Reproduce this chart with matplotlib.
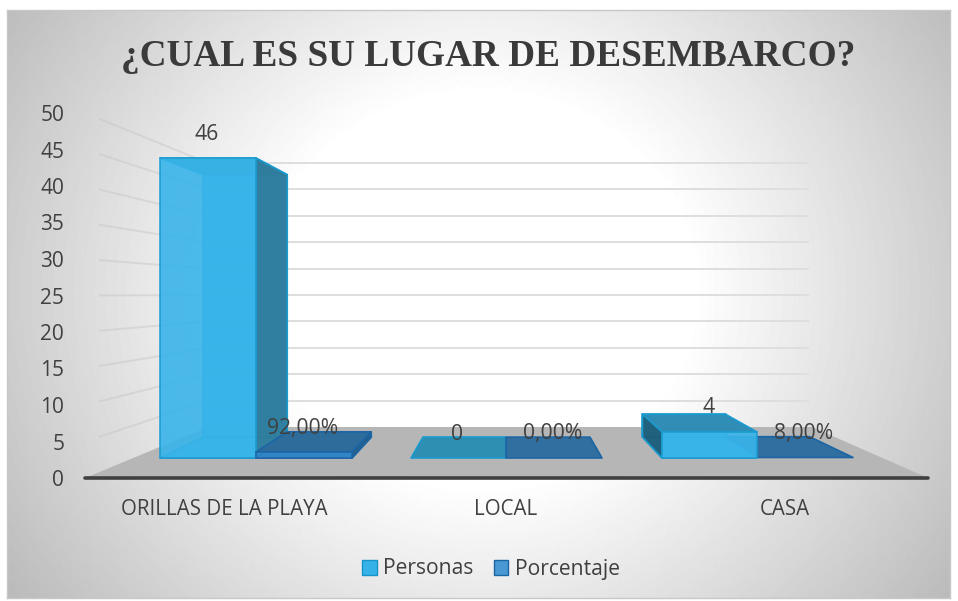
import numpy as np
import matplotlib
matplotlib.use("Agg")
import matplotlib.pyplot as plt
from matplotlib.patches import Polygon, Patch

categories = ["ORILLAS DE LA PLAYA", "LOCAL", "CASA"]
personas = [46, 0, 4]
porcentaje = [0.92, 0.0, 0.08]
personas_labels = ["46", "0", "4"]
porcentaje_labels = ["92,00%", "0,00%", "8,00%"]
yticks = list(range(0, 55, 5))

W, H = 958, 601
fig = plt.figure(figsize=(W / 100, H / 100), dpi=100, facecolor="white")
plt.rcParams["font.family"] = ["Open Sans", "DejaVu Sans"]
TXT = "#404040"


def axes_px(x0, y0, x1, y1, **kw):
    return fig.add_axes([x0 / W, 1 - y1 / H, (x1 - x0) / W, (y1 - y0) / H], **kw)


# background gradient panel
bg = axes_px(7, 10, 950, 598)
yy, xx = np.mgrid[10:598, 7:950]
r = np.sqrt(((xx - 480) / 560.0) ** 2 + ((yy - 290) / 520.0) ** 2)
shade = 1 - 0.30 * np.clip((r - 0.38) / 0.72, 0, 1) ** 1.0
bg.imshow(shade, cmap="gray", vmin=0, vmax=1, aspect="auto", extent=(7, 950, 598, 10))
bg.set_xticks([])
bg.set_yticks([])
for s in bg.spines.values():
    s.set_color("#c8c8c8")
    s.set_linewidth(1)

# value axes: x in pixels across the plot, y in value units
AX0, AX1, Y0, Y50 = 85, 928, 478, 113
ax = axes_px(AX0, Y50, AX1, Y0)
ax.set_xlim(AX0, AX1)
ax.set_ylim(0, 50)
ax.patch.set_alpha(0)
for k in ("top", "left", "right"):
    ax.spines[k].set_visible(False)
ax.spines["bottom"].set_color("#404040")
ax.spines["bottom"].set_linewidth(2.6)
ax.spines["bottom"].set_capstyle("round")
ax.set_yticks(yticks)
ax.tick_params(axis="y", length=0, labelsize=15, labelcolor=TXT, pad=15)
ax.set_xticks([224, 506, 785], categories)
ax.tick_params(axis="x", length=0, labelsize=14.8, labelcolor=TXT, pad=15)

PXU = (Y0 - Y50) / 50.0


def py(y):
    return (Y0 - y) / PXU


# projection: front plane point (x px, value) and depth d in 0..1
FRONT_Y, FRONT_SCALE, VPX, VPY, SHRINK = 458, 6.52, 506, 291, 0.125


def proj(x, v, d):
    yf = FRONT_Y - v * FRONT_SCALE
    s = 1 - SHRINK * d
    return (VPX + (x - VPX) * s, py(VPY + (yf - VPY) * s))


def poly(pts, fc, ec, alpha=1.0, z=3, lw=1.2):
    ax.add_patch(Polygon(pts, closed=True, facecolor=fc, edgecolor=ec, alpha=alpha,
                         linewidth=lw, zorder=z, clip_on=False, joinstyle="round"))


# floor
poly([(85, py(478)), (928, py(478)), (812, py(427)), (208, py(427))], "#b6b6b6", "none", z=1, lw=0)

# gridlines from the value ticks: side wall and back wall
BACK_BOTTOM, BACK_SCALE = 427, 5.28
for t in yticks[1:]:
    by = BACK_BOTTOM - t * BACK_SCALE
    ax.plot([100, 208], [t + (py(by) - t) * 15 / 123, py(by)], color="#c4c4c4", lw=1.4, alpha=0.45,
            zorder=1.5, clip_on=False)
    ax.plot([208, 808], [py(by), py(by)], color="#dedede", lw=1.4, zorder=1.5, clip_on=False)

PALETTE = {
    "p": dict(front="#38b4ea", side_r="#2f7c9c", side_l="#1f5d78", top="#2f8db6",
              edge="#1a9bd0", flat="#2f8fb3"),
    "q": dict(front="#2f86c8", side_r="#235f8e", side_l="#235f8e", top="#2e6c9c",
              edge="#1c65a4", flat="#306f9f"),
}


def box(x0, x1, v, pal):
    c = PALETTE[pal]
    e = c["edge"]
    if v * FRONT_SCALE < 1:
        poly([proj(x0, v, 0), proj(x1, v, 0), proj(x1, v, 1), proj(x0, v, 1)], c["flat"], e, z=4)
        return
    # solid silhouette tint behind, then the faces
    poly([proj(x0, 0, 1), proj(x1, 0, 1), proj(x1, v, 1), proj(x0, v, 1)], c["front"], e, alpha=0.92, z=4)
    poly([proj(x0, 0, 0), proj(x1, 0, 0), proj(x1, 0, 1), proj(x0, 0, 1)], c["front"], e, alpha=0.92, z=4)
    poly([proj(x0, v, 0), proj(x1, v, 0), proj(x1, v, 1), proj(x0, v, 1)], c["top"], e, z=4)
    if x1 <= VPX:
        poly([proj(x1, 0, 0), proj(x1, v, 0), proj(x1, v, 1), proj(x1, 0, 1)], c["side_r"], e, alpha=0.95, z=4)
    elif x0 >= VPX:
        poly([proj(x0, 0, 0), proj(x0, v, 0), proj(x0, v, 1), proj(x0, 0, 1)], c["side_l"], e, alpha=0.95, z=4)
    poly([proj(x0, 0, 0), proj(x1, 0, 0), proj(x1, v, 0), proj(x0, v, 0)], c["front"], e, alpha=0.9, z=4)


EDGES = [(160, 256, 352), (411, 506, 602), (662, 757, 853)]
for i, (a, b, c) in enumerate(EDGES):
    if i == 2:
        box(b, c, porcentaje[i], "q")
        box(a, b, personas[i], "p")
    else:
        box(a, b, personas[i], "p")
        box(b, c, porcentaje[i], "q")
    yp = FRONT_Y - personas[i] * FRONT_SCALE - 24
    yq = FRONT_Y - porcentaje[i] * FRONT_SCALE - 24
    ax.text((a + b) / 2 - 1, py(yp), personas_labels[i], ha="center", va="center",
            fontsize=15.2, color=TXT, zorder=6, clip_on=False)
    ax.text((b + c) / 2 - 1, py(yq), porcentaje_labels[i], ha="center", va="center",
            fontsize=15.2, color=TXT, zorder=6, clip_on=False)

# title
fig.text(488.5 / W, 1 - 57 / H, "¿CUAL ES SU LUGAR DE DESEMBARCO?", ha="center", va="center",
         fontsize=26.8, fontweight="bold", color="#3a3a3a", family="Liberation Serif")

# legend
handles = [Patch(facecolor="#36b2e9", edgecolor="#1594c8", label="Personas"),
           Patch(facecolor="#4a98d2", edgecolor="#1c65a4", label="Porcentaje")]
fig.legend(handles=handles, loc="center", bbox_to_anchor=(491 / W, 1 - 569 / H), ncol=2,
           frameon=False, fontsize=15.2, labelcolor=TXT, handlelength=0.7, handleheight=0.7,
           handletextpad=0.3, columnspacing=0.95)

fig.savefig("out.png", dpi=100)
